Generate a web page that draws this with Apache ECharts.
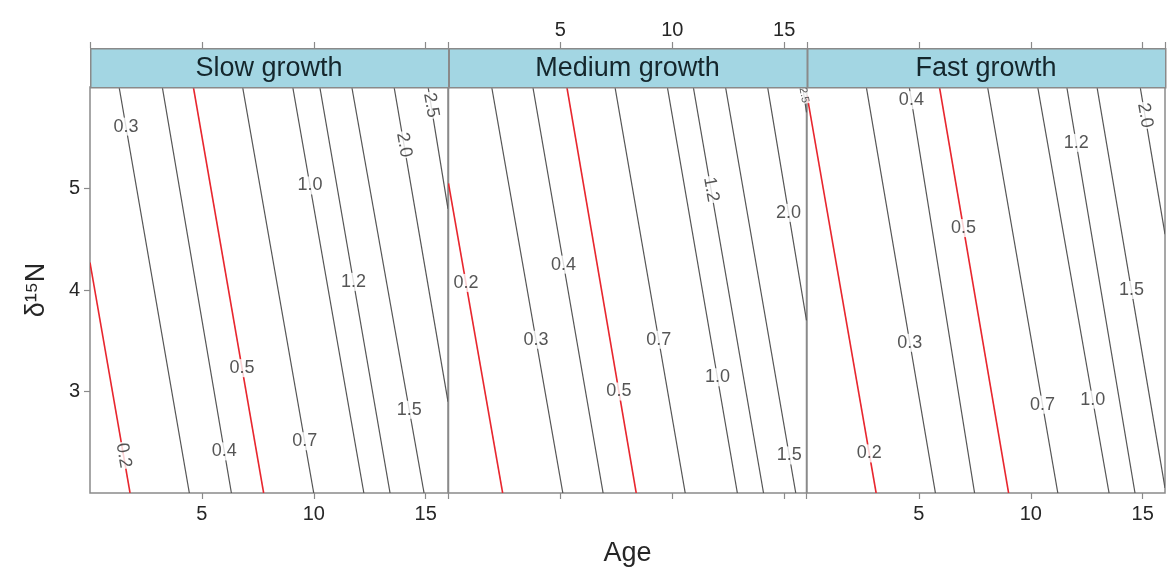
<!DOCTYPE html>
<html><head><meta charset="utf-8">
<script src="https://cdn.jsdelivr.net/npm/echarts@6/dist/echarts.min.js"></script>
<style>html,body{margin:0;padding:0;background:#fff}#c{width:1168px;height:574px}</style>
</head><body><div id="c"></div>
<script>
// ---------------- data ----------------
const panelNames = ['Slow growth', 'Medium growth', 'Fast growth'];
const levels = [0.2, 0.3, 0.4, 0.5, 0.7, 1.0, 1.2, 1.5, 2.0, 2.5];
const highlightLevels = [0.2, 0.5];
const ageRange = [0, 16];
const n15Range = [2, 6];
const ageTickStep = 5;
const n15TickStep = 1;

// contour segments [age1, d15N1, age2, d15N2] in level order (null = not present)
const slowSegments = [
  [0, 4.27, 1.79, 2], [1.30, 6, 4.44, 2], [3.23, 6, 6.32, 2], [4.62, 6, 7.76, 2],
  [6.82, 6, 10.0, 2], [9.06, 6, 12.24, 2], [10.27, 6, 13.41, 2], [11.70, 6, 14.93, 2],
  [13.59, 6, 16, 2.9], [15.11, 6, 16, 4.8]
];
const mediumSegments = [
  [0, 5.05, 2.42, 2], [1.93, 6, 5.11, 2], [3.77, 6, 6.91, 2], [5.29, 6, 8.39, 2],
  [7.44, 6, 10.58, 2], [9.78, 6, 12.91, 2], [10.94, 6, 14.08, 2], [12.38, 6, 15.52, 2],
  [14.26, 6, 16, 3.7], [15.83, 6, 16, 5.75]
];
const fastSegments = [
  [0, 5.92, 3.09, 2], [2.65, 6, 5.74, 2], [4.57, 6, 7.49, 2], [5.92, 6, 9.01, 2],
  [8.07, 6, 11.21, 2], [10.31, 6, 13.50, 2], [11.61, 6, 14.66, 2], [12.96, 6, 16, 2.05],
  [14.89, 6, 16, 4.55], null
];
// d15N height at which each contour label sits (null = no label)
const slowLabelY = [2.37, 5.61, 2.41, 3.23, 2.51, 5.03, 4.08, 2.82, 5.43, 5.82];
const mediumLabelY = [4.07, 3.51, 4.25, 3.0, 3.51, 3.14, 4.99, 2.37, 4.76, 5.92];
const fastLabelY = [2.39, 3.48, 5.87, 4.61, 2.87, 2.92, 5.45, 4.0, 5.72, null];
const rotatedLabels = [[0.2, 2.0, 2.5], [1.2, 2.5], [2.0]];

// ---------------- layout / style ----------------
const segs = [slowSegments, mediumSegments, fastSegments];
const labYs = [slowLabelY, mediumLabelY, fastLabelY];
const panelLeft = [90, 448.5, 807];
const panelW = 358, panelTop = 87, panelH = 406, stripH = 39;
const FONT = "'Liberation Sans', Arial, sans-serif";
const frameColor = '#8a8a8a';
const textColor = '#262626';

const grids = [], xAxes = [], yAxes = [], series = [], graphics = [];
for (let i = 0; i < 3; i++) {
  grids.push({left: panelLeft[i], top: panelTop, width: panelW, height: panelH,
    show: true, borderColor: frameColor, borderWidth: 1.5, backgroundColor: '#fff'});
  const base = {gridIndex: i, type: 'value', min: ageRange[0], max: ageRange[1], interval: ageTickStep,
    axisLine: {show: false}, splitLine: {show: false},
    axisTick: {show: true, length: 6, lineStyle: {color: frameColor, width: 1.2}}};
  xAxes.push(Object.assign({}, base, {position: 'bottom',
    axisLabel: {show: i !== 1, showMinLabel: false, showMaxLabel: false, fontSize: 20, color: textColor, fontFamily: FONT, margin: 11},
    name: i === 1 ? 'Age' : '', nameLocation: 'middle', nameGap: 47,
    nameTextStyle: {fontSize: 27, color: textColor, fontFamily: FONT}}));
  xAxes.push(Object.assign({}, base, {position: 'top', offset: stripH,
    axisLabel: {show: i === 1, showMinLabel: false, showMaxLabel: false, fontSize: 20, color: textColor, fontFamily: FONT, margin: 8}}));
  yAxes.push({gridIndex: i, type: 'value', min: n15Range[0], max: n15Range[1], interval: n15TickStep,
    show: i === 0, axisLine: {show: false}, splitLine: {show: false},
    axisTick: {show: true, length: 6, lineStyle: {color: frameColor, width: 1.2}},
    axisLabel: {showMinLabel: false, showMaxLabel: false, fontSize: 20, color: textColor, fontFamily: FONT, margin: 10},
    name: 'δ¹⁵N', nameLocation: 'middle', nameGap: 40,
    nameTextStyle: {fontSize: 27, color: textColor, fontFamily: FONT}});

  const lineData = [], labelData = [];
  levels.forEach((lv, k) => {
    const s = segs[i][k];
    if (!s) return;
    const hi = highlightLevels.includes(lv);
    lineData.push({coords: [[s[0], s[1]], [s[2], s[3]]],
      lineStyle: {color: hi ? '#e8262e' : '#555', width: hi ? 1.6 : 1.2, opacity: 1}});
    const ly = labYs[i][k];
    if (ly == null) return;
    const lx = s[0] + (s[2] - s[0]) * (ly - s[1]) / (s[3] - s[1]);
    const rot = rotatedLabels[i].includes(lv);
    const small = (i === 1 && lv === 2.5);
    labelData.push({name: lv.toFixed(1), value: [lx, ly],
      label: {rotate: rot ? -80 : 0, fontSize: small ? 11 : 18}});
  });
  series.push({type: 'lines', coordinateSystem: 'cartesian2d', xAxisIndex: 2 * i, yAxisIndex: i,
    silent: true, data: lineData, z: 2, lineStyle: {opacity: 1}});
  series.push({type: 'scatter', xAxisIndex: 2 * i, yAxisIndex: i, symbolSize: 0, silent: true, z: 3,
    data: labelData,
    label: {show: true, position: 'inside', formatter: p => p.name, color: '#2a2a2a', fontFamily: FONT,
      fontSize: 18, backgroundColor: '#fff', padding: [0, 1]}});

  graphics.push({type: 'rect', left: panelLeft[i], top: panelTop - stripH, z: 10,
    shape: {width: panelW, height: stripH},
    style: {fill: '#a3d6e3', stroke: frameColor, lineWidth: 1.5}});
  graphics.push({type: 'text', z: 11, x: panelLeft[i] + panelW / 2, y: panelTop - stripH / 2 + 1,
    style: {text: panelNames[i], fill: '#14262c', font: "27px 'Liberation Sans', Arial, sans-serif",
      textAlign: 'center', textVerticalAlign: 'middle'}});
}

const chart = echarts.init(document.getElementById('c'), null, {renderer: 'canvas'});
chart.setOption({
  animation: false, backgroundColor: '#fff',
  grid: grids, xAxis: xAxes, yAxis: yAxes, series: series, graphic: graphics
});
</script></body></html>
